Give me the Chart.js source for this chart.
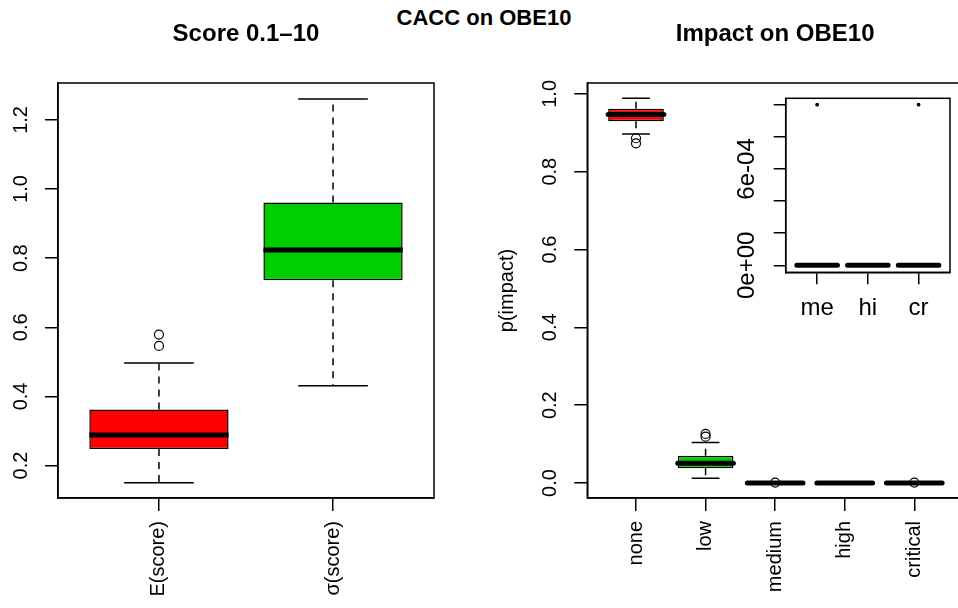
<!DOCTYPE html>
<html>
<head>
<meta charset="utf-8">
<script src="https://cdn.jsdelivr.net/npm/chart.js@4.4.0/dist/chart.umd.min.js"></script>
<style>
  html, body { margin: 0; padding: 0; background: #fff; overflow: hidden; width: 958px; height: 608px; }
  #main-title { position: absolute; left: 0; top: 7px; width: 968px; text-align: center;
    font: bold 22px 'Liberation Sans', Arial, sans-serif; line-height: 22px; color: #000; }
  #left { position: absolute; left: 0; top: 0; }
  #right { position: absolute; left: 479px; top: 0; }
  #inset { position: absolute; left: 700px; top: 85px; }
</style>
</head>
<body>
<div id="main-title">CACC on OBE10</div>
<canvas id="left" width="479" height="608"></canvas>
<canvas id="right" width="540" height="608"></canvas>
<canvas id="inset" width="258" height="260"></canvas>
<script>
// left panel: score
const scoreCats = ['E(score)', 'σ(score)'];
const scoreMin = [0.150, 0.431];
const scoreQ1 = [0.248, 0.736];
const scoreMed = [0.288, 0.824];
const scoreQ3 = [0.362, 0.961];
const scoreMax = [0.497, 1.261];
const scoreOut = [[0.546, 0.579], []];
const scoreTicks = [0.2, 0.4, 0.6, 0.8, 1.0, 1.2];
const scoreTickLabels = ['0.2', '0.4', '0.6', '0.8', '1.0', '1.2'];

// right panel: impact
const impactCats = ['none', 'low', 'medium', 'high', 'critical'];
const impactMin = [0.897, 0.012, 0, 0, 0];
const impactQ1 = [0.930, 0.038, 0, 0, 0];
const impactMed = [0.947, 0.051, 0, 0, 0];
const impactQ3 = [0.962, 0.070, 0, 0, 0];
const impactMax = [0.989, 0.104, 0, 0, 0];
const impactOut = [[0.886, 0.873], [0.126, 0.119], [0.001], [], [0.001]];
const impactTicks = [0, 0.2, 0.4, 0.6, 0.8, 1.0];
const impactTickLabels = ['0.0', '0.2', '0.4', '0.6', '0.8', '1.0'];

// inset: medium / high / critical zoomed
const insetCats = ['me', 'hi', 'cr'];
const insetMin = [0, 0, 0];
const insetQ1 = [0, 0, 0];
const insetMed = [0, 0, 0];
const insetQ3 = [0, 0, 0];
const insetMax = [0, 0, 0];
const insetOut = [[0.001], [], [0.001]];
const insetTicks = [0, 0.0002, 0.0004, 0.0006, 0.0008, 0.001];
const insetTickLabels = ['0e+00', '', '', '6e-04', '', ''];

const boxColors = ['#ff0000', '#00cd00', '#ff0000', '#00cd00', '#ff0000'];

const FONT = "'Liberation Sans', Arial, Helvetica, sans-serif";
Chart.defaults.font.family = FONT;
Chart.defaults.color = '#000';

// line segments joined into one dataset, broken by null points
function segs(list) {
    let pts = [];
    list.forEach(s => {
        pts.push({ x: s[0], y: s[1] }, { x: s[2], y: s[3] }, { x: s[2], y: null });
    });
    return pts;
}

function boxDatasets(mn, q1, med, q3, mx, out, o) {
    const idx = q1.map((_, i) => i + 1);
    const line = { type: 'line', borderColor: '#000', borderWidth: 1.5, pointRadius: 0, fill: false, tension: 0 };
    let outPts = [];
    out.forEach((list, i) => list.forEach(v => outPts.push({ x: i + 1, y: v })));
    return [
        Object.assign({}, line, {
            order: 1, showLine: false, data: outPts,
            pointRadius: o.outR, pointBorderColor: '#000', pointBackgroundColor: o.outFill, pointBorderWidth: 1.2
        }),
        Object.assign({}, line, {
            order: 2, borderWidth: 5, borderCapStyle: o.cap,
            data: segs(idx.map(i => [i - 0.4, med[i - 1], i + 0.4, med[i - 1]]))
        }),
        Object.assign({}, line, {
            order: 3,
            data: segs(idx.flatMap(i => [[i - 0.2, mx[i - 1], i + 0.2, mx[i - 1]], [i - 0.2, mn[i - 1], i + 0.2, mn[i - 1]]]))
        }),
        Object.assign({}, line, {
            order: 4, borderDash: [7, 6],
            data: segs(idx.flatMap(i => [[i, q3[i - 1], i, mx[i - 1]], [i, q1[i - 1], i, mn[i - 1]]]))
        }),
        {
            type: 'bar', order: 5,
            data: idx.map(i => ({ x: i, y: [q1[i - 1], q3[i - 1]] })),
            backgroundColor: boxColors.slice(0, idx.length),
            borderColor: '#000', borderWidth: 1.5, borderSkipped: false,
            barPercentage: 0.8, categoryPercentage: 1
        }
    ];
}

// vertical tick labels, y title and the frame of the plot region
const frameAndLabels = {
    id: 'frameAndLabels',
    afterDraw(chart, args, opts) {
        const { ctx, chartArea } = chart;
        const ys = chart.scales.y;
        ctx.save();
        ctx.fillStyle = '#000';
        ctx.textAlign = 'center';
        ctx.textBaseline = 'middle';
        ctx.font = opts.size + 'px ' + FONT;
        opts.ticks.forEach((v, i) => {
            ctx.save();
            ctx.translate(chartArea.left - opts.offset, ys.getPixelForValue(v));
            ctx.rotate(-Math.PI / 2);
            ctx.fillText(opts.labels[i], 0, 0);
            ctx.restore();
        });
        if (opts.title) {
            ctx.save();
            ctx.font = '20px ' + FONT;
            ctx.translate(chartArea.left - opts.titleOffset, (chartArea.top + chartArea.bottom) / 2);
            ctx.rotate(-Math.PI / 2);
            ctx.fillText(opts.title, 0, 0);
            ctx.restore();
        }
        ctx.strokeStyle = '#000';
        ctx.lineWidth = 1.5;
        ctx.strokeRect(chartArea.left, chartArea.top, chartArea.right - chartArea.left, chartArea.bottom - chartArea.top);
        ctx.restore();
    }
};

function makeChart(id, c) {
    const axisGrid = { drawOnChartArea: false, drawTicks: true, tickLength: c.tickLen, color: '#000', lineWidth: 1.5, offset: false };
    const axisBorder = { display: true, color: '#000', width: 1.5 };
    return new Chart(document.getElementById(id).getContext('2d'), {
        type: 'bar',
        data: { datasets: c.datasets },
        plugins: [frameAndLabels],
        options: {
            responsive: false,
            animation: false,
            events: [],
            layout: { padding: c.padding },
            plugins: {
                legend: { display: false },
                tooltip: { enabled: false },
                title: {
                    display: !!c.title, text: c.title, fullSize: false, color: '#000',
                    font: { size: 24, weight: 'bold' }, padding: { top: 20, bottom: 34.2 }
                },
                frameAndLabels: {
                    ticks: c.yTicks, labels: c.yLabels, offset: c.labOffset, size: c.labSize,
                    title: c.yTitle, titleOffset: c.yTitleOffset
                }
            },
            scales: {
                x: {
                    type: 'linear', min: c.xMin, max: c.xMax, offset: false,
                    afterFit: s => { s.height = c.xHeight; },
                    afterBuildTicks: s => { s.ticks = c.cats.map((_, i) => ({ value: i + 1 })); },
                    ticks: {
                        autoSkip: false, minRotation: c.rot, maxRotation: c.rot, padding: 10,
                        color: '#000', font: { size: c.labSize },
                        callback: v => c.cats[Math.round(v) - 1]
                    },
                    grid: axisGrid, border: axisBorder
                },
                y: {
                    type: 'linear', min: c.yMin, max: c.yMax,
                    afterFit: s => { s.width = c.yWidth; },
                    afterBuildTicks: s => { s.ticks = c.yTicks.map(v => ({ value: v })); },
                    ticks: { display: false },
                    grid: axisGrid, border: axisBorder
                }
            }
        }
    });
}

makeChart('left', {
    title: 'Score 0.1–10',
    cats: scoreCats,
    datasets: boxDatasets(scoreMin, scoreQ1, scoreMed, scoreQ3, scoreMax, scoreOut, { outR: 4.5, outFill: 'rgba(0,0,0,0)', cap: 'butt' }),
    padding: { left: 0, right: 45, top: 0, bottom: 0 },
    xMin: 0.42, xMax: 2.58, yMin: 0.106, yMax: 1.307,
    xHeight: 110, yWidth: 58, rot: 90, tickLen: 13,
    yTicks: scoreTicks, yLabels: scoreTickLabels, labOffset: 37, labSize: 20
});

makeChart('right', {
    title: 'Impact on OBE10',
    cats: impactCats,
    datasets: boxDatasets(impactMin, impactQ1, impactMed, impactQ3, impactMax, impactOut, { outR: 4.5, outFill: 'rgba(0,0,0,0)', cap: 'round' }),
    padding: { left: 0, right: 56, top: 0, bottom: 0 },
    xMin: 0.3, xMax: 5.7, yMin: -0.0386, yMax: 1.028,
    xHeight: 110, yWidth: 108.3, rot: 90, tickLen: 13,
    yTicks: impactTicks, yLabels: impactTickLabels, labOffset: 36.5, labSize: 20,
    yTitle: 'p(impact)', yTitleOffset: 80
});

makeChart('inset', {
    title: '',
    cats: insetCats,
    datasets: boxDatasets(insetMin, insetQ1, insetMed, insetQ3, insetMax, insetOut, { outR: 1.3, outFill: '#000', cap: 'round' }),
    padding: { left: 0, right: 8, top: 13.3, bottom: 0 },
    xMin: 0.38, xMax: 3.62, yMin: -0.0000436, yMax: 0.00104,
    xHeight: 72.7, yWidth: 85.7, rot: 0, tickLen: 12,
    yTicks: insetTicks, yLabels: insetTickLabels, labOffset: 38, labSize: 24
});
</script>
</body>
</html>
